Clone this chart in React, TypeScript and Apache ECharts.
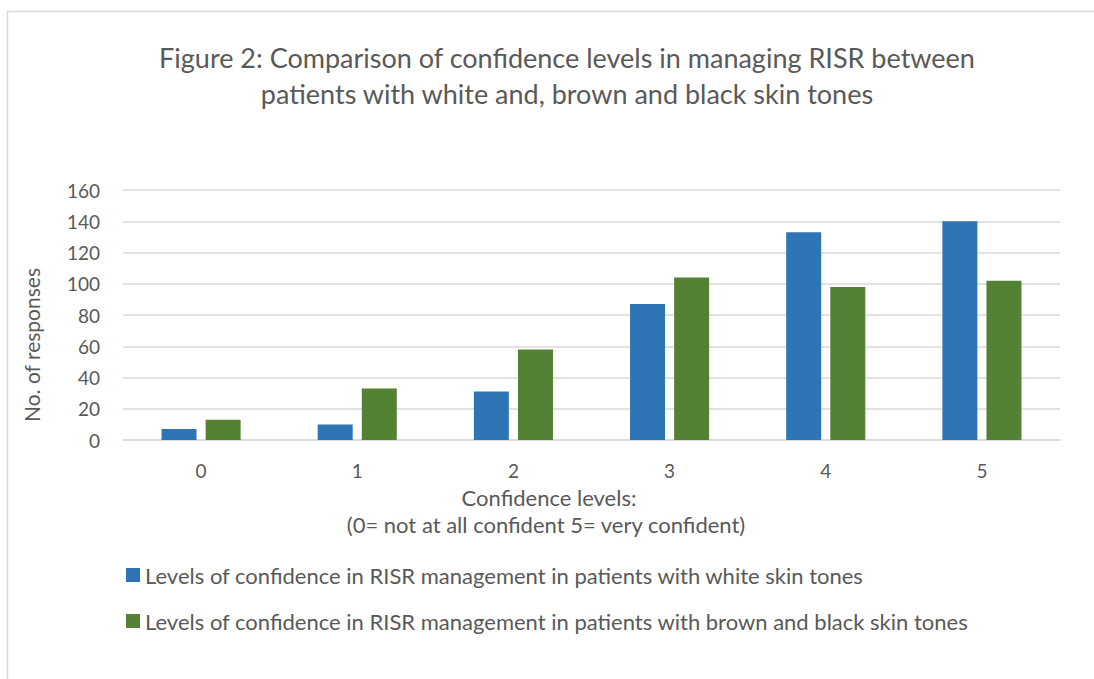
import React, { useEffect, useRef } from "react";
import * as echarts from "echarts";

const categories = ["0", "1", "2", "3", "4", "5"];
const whiteSkin = [7, 10, 31, 87, 133, 140];
const brownBlackSkin = [13, 33, 58, 104, 98, 102];
const seriesNames = [
  "Levels of confidence in RISR management in patients with white skin tones",
  "Levels of confidence in RISR management in patients with brown and black skin tones",
];
const titleLines = [
  "Figure 2: Comparison of confidence levels in managing RISR between",
  "patients with white and, brown and black skin tones",
];
const xAxisNameLines = ["Confidence levels:", "(0= not at all confident 5= very confident)"];
const yAxisName = "No. of responses";

const FONT = "Lato";
const TEXT = "#595959";

export default function App() {
  const ref = useRef<HTMLDivElement>(null);
  useEffect(() => {
    const chart = echarts.init(ref.current!, null, { renderer: "svg" });
    chart.setOption({
      animation: false,
      backgroundColor: "#ffffff",
      textStyle: { fontFamily: FONT, color: TEXT },
      grid: { left: 123, right: 34, top: 190, bottom: 239, containLabel: false },
      graphic: [
        {
          type: "rect",
          shape: { x: 7.5, y: 11.5, width: 1200, height: 800 },
          style: { fill: "none", stroke: "#d9d9d9", lineWidth: 1.5 },
          silent: true,
        },
        {
          type: "text",
          x: 567,
          y: 57,
          style: { text: titleLines[0], font: `27px ${FONT}`, fill: TEXT, align: "center", verticalAlign: "middle" },
        },
        {
          type: "text",
          x: 567,
          y: 93,
          style: { text: titleLines[1], font: `27px ${FONT}`, fill: TEXT, align: "center", verticalAlign: "middle" },
        },
        {
          type: "text",
          x: 549,
          y: 497,
          style: { text: xAxisNameLines[0], font: `22px ${FONT}`, fill: TEXT, align: "center", verticalAlign: "middle" },
        },
        {
          type: "text",
          x: 546,
          y: 524,
          style: { text: xAxisNameLines[1], font: `22px ${FONT}`, fill: TEXT, align: "center", verticalAlign: "middle" },
        },
        {
          type: "text",
          x: 31,
          y: 345,
          rotation: Math.PI / 2,
          style: { text: yAxisName, font: `21px ${FONT}`, fill: TEXT, align: "center", verticalAlign: "middle" },
        },
      ],
      legend: {
        orient: "vertical",
        left: 126,
        top: 564,
        padding: 0,
        itemWidth: 14,
        itemHeight: 14,
        itemGap: 24,
        icon: "rect",
        textStyle: { fontFamily: FONT, fontSize: 22, color: TEXT, padding: [0, 0, 0, 0] },
        data: seriesNames,
      },
      xAxis: {
        type: "category",
        data: categories,
        axisLine: { show: true, lineStyle: { color: "#d9d9d9", width: 1.5 } },
        axisTick: { show: false },
        axisLabel: { color: TEXT, fontFamily: FONT, fontSize: 19, margin: 21 },
      },
      yAxis: {
        type: "value",
        min: 0,
        max: 160,
        interval: 20,
        axisLine: { show: false },
        axisTick: { show: false },
        splitLine: { lineStyle: { color: "#d9d9d9", width: 1.5 } },
        axisLabel: { color: TEXT, fontFamily: FONT, fontSize: 19, margin: 23 },
      },
      series: [
        {
          name: seriesNames[0],
          type: "bar",
          data: whiteSkin,
          barWidth: 35,
          barGap: "26%",
          itemStyle: { color: "#2e75b6" },
        },
        {
          name: seriesNames[1],
          type: "bar",
          data: brownBlackSkin,
          barWidth: 35,
          barGap: "26%",
          itemStyle: { color: "#548235" },
        },
      ],
    });
    return () => chart.dispose();
  }, []);
  return (
    <div
      ref={ref}
      style={{ position: "absolute", left: 0, top: 0, width: 1094, height: 679, background: "#fff" }}
    />
  );
}
